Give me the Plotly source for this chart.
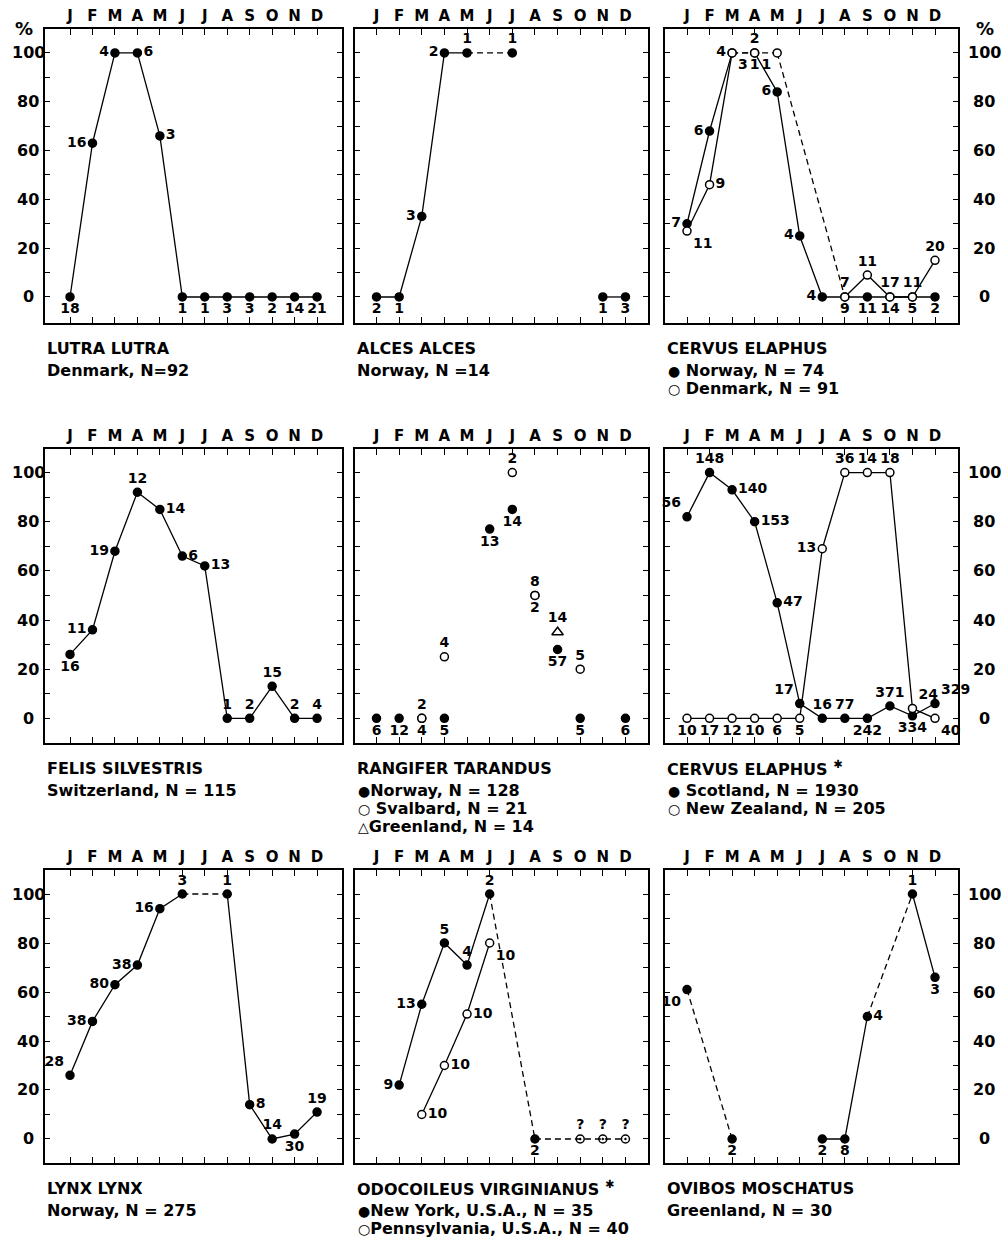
import plotly.graph_objects as go

FIG_W, FIG_H = 1008, 1242
FONT = "DejaVu Sans, Liberation Sans, Arial, sans-serif"

MONTHS = ["J", "F", "M", "A", "M", "J", "J", "A", "S", "O", "N", "D"]
MONTH_NO = list(range(1, 13))
Y_TICKS = [0, 10, 20, 30, 40, 50, 60, 70, 80, 90, 100]
Y_TICK_TEXT = ["0", "", "20", "", "40", "", "60", "", "80", "", "100"]

# ---- Lutra lutra, Denmark ----
lutra_pct = [0, 63, 100, 100, 66, 0, 0, 0, 0, 0, 0, 0]
lutra_n = ["18", "16", "4", "6", "3", "1", "1", "3", "3", "2", "14", "21"]
lutra_pos = ["b", "l", "l", "r", "r", "b", "b", "b", "b", "b", "b", "b"]
lutra_lines = [("solid", [1, 2, 3, 4, 5, 6, 7, 8, 9, 10, 11, 12])]

# ---- Alces alces, Norway ----
alces_pct = [0, 0, 33, 100, 100, None, 100, None, None, None, 0, 0]
alces_n = ["2", "1", "3", "2", "1", None, "1", None, None, None, "1", "3"]
alces_pos = ["b", "b", "l", "l", "t", None, "t", None, None, None, "b", "b"]
alces_lines = [("solid", [1, 2, 3, 4, 5]), ("dash", [5, 7]), ("solid", [11, 12])]

# ---- Cervus elaphus, Norway / Denmark ----
cer_no_pct = [30, 68, 100, 100, 84, 25, 0, 0, 0, 0, 0, 0]
cer_no_n = ["7", "6", "3", "1", "6", "4", "4", "9", "11", "14", "5", "2"]
cer_no_pos = ["l", "l", "br", "b", "l", "l", "l", "b", "b", "b", "b", "b"]
cer_no_lines = [("solid", [1, 2, 3]), ("dash", [3, 4]),
                ("solid", [4, 5, 6, 7, 8, 9, 10, 11, 12])]

cer_dk_pct = [27, 46, 100, 100, 100, None, None, 0, 9, 0, 0, 15]
cer_dk_n = ["11", "9", "4", "2", "1", None, None, "7", "11", "17", "11", "20"]
cer_dk_pos = ["br", "r", "l", "t", "bl", None, None, "t", "t", "t", "t", "t"]
cer_dk_lines = [("solid", [1, 2, 3]), ("dash", [3, 4, 5]), ("dash", [5, 8]),
                ("solid", [8, 9, 10, 11, 12])]

# ---- Felis silvestris, Switzerland ----
felis_pct = [26, 36, 68, 92, 85, 66, 62, 0, 0, 13, 0, 0]
felis_n = ["16", "11", "19", "12", "14", "6", "13", "1", "2", "15", "2", "4"]
felis_pos = ["b", "l", "l", "t", "r", "r", "r", "t", "t", "t", "t", "t"]
felis_lines = [("solid", [1, 2, 3, 4, 5, 6, 7, 8, 9, 10, 11, 12])]

# ---- Rangifer tarandus, Norway / Svalbard / Greenland ----
ran_no_pct = [0, 0, 0, 0, None, 77, 85, 50, 28, 0, None, 0]
ran_no_n = ["6", "12", "4", "5", None, "13", "14", "2", "57", "5", None, "6"]
ran_no_pos = ["b", "b", "b", "b", None, "b", "b", "b", "b", "b", None, "b"]

ran_sv_pct = [None, None, 0, 25, None, None, 100, 50, None, 20, None, None]
ran_sv_n = [None, None, "2", "4", None, None, "2", "8", None, "5", None, None]
ran_sv_pos = [None, None, "t", "t", None, None, "t", "t", None, "t", None, None]

ran_gl_pct = [None, None, None, None, None, None, None, None, 35, None, None, None]
ran_gl_n = [None, None, None, None, None, None, None, None, "14", None, None, None]
ran_gl_pos = [None, None, None, None, None, None, None, None, "t", None, None, None]

# ---- Cervus elaphus, Scotland / New Zealand ----
cer_sc_pct = [82, 100, 93, 80, 47, 6, 0, 0, 0, 5, 1, 6]
cer_sc_n = ["56", "148", "140", "153", "47", "17", "16", "77", "242", "371", "334", "329"]
cer_sc_pos = ["tl", "t", "r", "r", "r", "tl", "t", "t", "b", "t", "b", "tr"]
cer_sc_lines = [("solid", [1, 2, 3, 4, 5, 6, 7, 8, 9, 10, 11, 12])]

cer_nz_pct = [0, 0, 0, 0, 0, 0, 69, 100, 100, 100, 4, 0]
cer_nz_n = ["10", "17", "12", "10", "6", "5", "13", "36", "14", "18", "24", "40"]
cer_nz_pos = ["b", "b", "b", "b", "b", "b", "l", "t", "t", "t", "tr", "br"]
cer_nz_lines = [("solid", [1, 2, 3, 4, 5, 6, 7, 8, 9, 10, 11, 12])]

# ---- Lynx lynx, Norway ----
lynx_pct = [26, 48, 63, 71, 94, 100, None, 100, 14, 0, 2, 11]
lynx_n = ["28", "38", "80", "38", "16", "3", None, "1", "8", "14", "30", "19"]
lynx_pos = ["tl", "l", "l", "l", "l", "t", None, "t", "r", "t", "b", "t"]
lynx_lines = [("solid", [1, 2, 3, 4, 5, 6]), ("dash", [6, 8]),
              ("solid", [8, 9, 10, 11, 12])]

# ---- Odocoileus virginianus, New York / Pennsylvania ----
odo_ny_pct = [None, 22, 55, 80, 71, 100, None, 0, None, 0, 0, 0]
odo_ny_n = [None, "9", "13", "5", "4", "2", None, "2", None, "?", "?", "?"]
odo_ny_pos = [None, "l", "l", "t", "t", "t", None, "b", None, "t", "t", "t"]
odo_ny_lines = [("solid", [2, 3, 4, 5, 6]), ("dash", [6, 8]),
                ("dash", [8, 10, 11, 12])]

odo_pa_pct = [None, None, 10, 30, 51, 80, None, None, None, None, None, None]
odo_pa_n = [None, None, "10", "10", "10", "10", None, None, None, None, None, None]
odo_pa_pos = [None, None, "r", "r", "r", "br", None, None, None, None, None, None]
odo_pa_lines = [("solid", [3, 4, 5, 6])]

# ---- Ovibos moschatus, Greenland ----
ovi_pct = [61, None, 0, None, None, None, 0, 0, 50, None, 100, 66]
ovi_n = ["10", None, "2", None, None, None, "2", "8", "4", None, "1", "3"]
ovi_pos = ["bl", None, "b", None, None, None, "b", "b", "r", None, "t", "b"]
ovi_lines = [("dash", [1, 3]), ("solid", [7, 8, 9]), ("dash", [9, 11]),
             ("solid", [11, 12])]

# ---- panel layout (pixel boxes of each plotting frame) ----
COL_BOX = [(45, 342), (355, 648), (665, 958)]
ROW_BOX = [(29, 323), (449, 743), (870, 1163)]
X_RANGE = [(-0.114, 13.11), (0.049, 12.996), (0.024, 13.02)]
Y_RANGE = [(-10.66, 109.8), (-10.06, 109.6), (-9.8, 109.8)]
TITLE_Y = [348, 768, 1188]

DOT = '<span style="font-size:14px">●</span>'
RING = '<span style="font-size:14px">○</span>'
TRI_TXT = '<span style="font-size:14px">△</span>'

PANELS = [
    dict(title="LUTRA LUTRA", sub=["Denmark, N=92"],
         series=[(lutra_pct, lutra_n, lutra_pos, "filled", lutra_lines)]),
    dict(title="ALCES ALCES", sub=["Norway, N =14"],
         series=[(alces_pct, alces_n, alces_pos, "filled", alces_lines)]),
    dict(title="CERVUS ELAPHUS",
         sub=[DOT + " Norway, N = 74", RING + " Denmark, N = 91"],
         series=[(cer_no_pct, cer_no_n, cer_no_pos, "filled", cer_no_lines),
                 (cer_dk_pct, cer_dk_n, cer_dk_pos, "open", cer_dk_lines)]),
    dict(title="FELIS SILVESTRIS", sub=["Switzerland, N = 115"],
         series=[(felis_pct, felis_n, felis_pos, "filled", felis_lines)]),
    dict(title="RANGIFER TARANDUS",
         sub=[DOT + "Norway, N = 128", RING + " Svalbard, N = 21",
              TRI_TXT + "Greenland, N = 14"],
         series=[(ran_no_pct, ran_no_n, ran_no_pos, "filled", []),
                 (ran_sv_pct, ran_sv_n, ran_sv_pos, "open", []),
                 (ran_gl_pct, ran_gl_n, ran_gl_pos, "triangle", [])]),
    dict(title="CERVUS ELAPHUS <sup>✱</sup>",
         sub=[DOT + " Scotland, N = 1930", RING + " New Zealand, N = 205"],
         series=[(cer_sc_pct, cer_sc_n, cer_sc_pos, "filled", cer_sc_lines),
                 (cer_nz_pct, cer_nz_n, cer_nz_pos, "open", cer_nz_lines)]),
    dict(title="LYNX LYNX", sub=["Norway, N = 275"],
         series=[(lynx_pct, lynx_n, lynx_pos, "filled", lynx_lines)]),
    dict(title="ODOCOILEUS VIRGINIANUS <sup>✱</sup>",
         sub=[DOT + "New York, U.S.A., N = 35", RING + "Pennsylvania, U.S.A., N = 40"],
         series=[(odo_ny_pct, odo_ny_n, odo_ny_pos, "filled", odo_ny_lines),
                 (odo_pa_pct, odo_pa_n, odo_pa_pos, "open", odo_pa_lines)]),
    dict(title="OVIBOS MOSCHATUS", sub=["Greenland, N = 30"],
         series=[(ovi_pct, ovi_n, ovi_pos, "filled", ovi_lines)]),
]

TEXT_POS = {"b": "bottom center", "t": "top center", "l": "middle left",
            "r": "middle right", "bl": "bottom left", "br": "bottom right",
            "tl": "top left", "tr": "top right"}


def marker_style(kind, labels):
    if kind == "filled":
        symbols = ["circle-open-dot" if lab == "?" else "circle" for lab in labels]
        return dict(symbol=symbols, size=8, color="black",
                    line=dict(color="black", width=1.5))
    if kind == "open":
        return dict(symbol="circle", size=8, color="white",
                    line=dict(color="black", width=1.5))
    return dict(symbol="triangle-up", size=10, color="white",
                line=dict(color="black", width=1.5))


fig = go.Figure()
layout = dict(width=FIG_W, height=FIG_H, margin=dict(l=0, r=0, t=0, b=0),
              paper_bgcolor="white", plot_bgcolor="white", showlegend=False,
              font=dict(family=FONT, color="black"))
annotations = []

for k, panel in enumerate(PANELS):
    row, col = divmod(k, 3)
    idx = "" if k == 0 else str(k + 1)
    xa, ya = "x" + idx, "y" + idx
    x0, x1 = COL_BOX[col]
    y0, y1 = ROW_BOX[row]

    layout["xaxis" + idx] = dict(
        domain=[x0 / FIG_W, x1 / FIG_W], range=list(X_RANGE[col]), anchor=ya,
        side="top", tickmode="array", tickvals=MONTH_NO, ticktext=MONTHS,
        ticks="inside", ticklen=6, tickwidth=1.3, tickcolor="black",
        showline=True, linecolor="black", linewidth=1.6, mirror="ticks",
        showgrid=False, zeroline=False, fixedrange=True, ticklabelstandoff=0,
        tickfont=dict(family=FONT, size=15, color="black", weight="bold"))
    layout["yaxis" + idx] = dict(
        domain=[1 - y1 / FIG_H, 1 - y0 / FIG_H], range=list(Y_RANGE[row]),
        anchor=xa, tickmode="array", tickvals=Y_TICKS, showticklabels=False,
        ticks="inside", ticklen=5, tickwidth=1.3, tickcolor="black",
        showline=True, linecolor="black", linewidth=1.6, mirror="ticks",
        showgrid=False, zeroline=False, fixedrange=True)

    # y tick labels for the outer columns
    if col in (0, 2):
        xc = 28 if col == 0 else 984
        for v, t in zip(Y_TICKS, Y_TICK_TEXT):
            if t:
                annotations.append(dict(
                    x=xc / FIG_W, xref="paper", y=v, yref=ya, text=t,
                    showarrow=False, xanchor="center", yanchor="middle",
                    font=dict(family=FONT, size=16, color="black", weight="bold")))

    # connecting lines first
    for pct, labels, pos, kind, lines in panel["series"]:
        for dash, months in lines:
            fig.add_trace(go.Scatter(
                x=months, y=[pct[m - 1] for m in months], xaxis=xa, yaxis=ya,
                mode="lines", hoverinfo="skip",
                line=dict(color="black", width=1.3,
                          dash="solid" if dash == "solid" else "6px,4px")))

    # then markers with their sample-size labels
    for pct, labels, pos, kind, lines in panel["series"]:
        keep = [i for i, v in enumerate(pct) if v is not None]
        labs = [labels[i] for i in keep]
        fig.add_trace(go.Scatter(
            x=[MONTH_NO[i] for i in keep], y=[pct[i] for i in keep],
            xaxis=xa, yaxis=ya, mode="markers+text", cliponaxis=False,
            marker=marker_style(kind, labs), text=labs,
            textposition=[TEXT_POS[pos[i]] for i in keep],
            textfont=dict(family=FONT, size=14, color="black", weight="bold")))

    # species name and sample description
    annotations.append(dict(
        x=x0 / FIG_W, y=1 - TITLE_Y[row] / FIG_H, xref="paper", yref="paper",
        text="<b>" + panel["title"] + "</b>", showarrow=False,
        xanchor="left", yanchor="middle",
        font=dict(family=FONT, size=16, color="black")))
    ty = TITLE_Y[row] + 22
    for line in panel["sub"]:
        annotations.append(dict(
            x=(x0 + (1 if "span" in line else 0)) / FIG_W, y=1 - ty / FIG_H,
            xref="paper", yref="paper", text="<b>" + line + "</b>",
            showarrow=False, xanchor="left", yanchor="middle",
            font=dict(family=FONT, size=16, color="black")))
        ty += 18

# percent signs on the outer axes
for px in (24, 985):
    annotations.append(dict(
        x=px / FIG_W, y=1 - 29 / FIG_H, xref="paper", yref="paper", text="<b>%</b>",
        showarrow=False, xanchor="center", yanchor="middle",
        font=dict(family=FONT, size=18, color="black")))

layout["annotations"] = annotations
fig.update_layout(**layout)
fig.write_html("out.html")
